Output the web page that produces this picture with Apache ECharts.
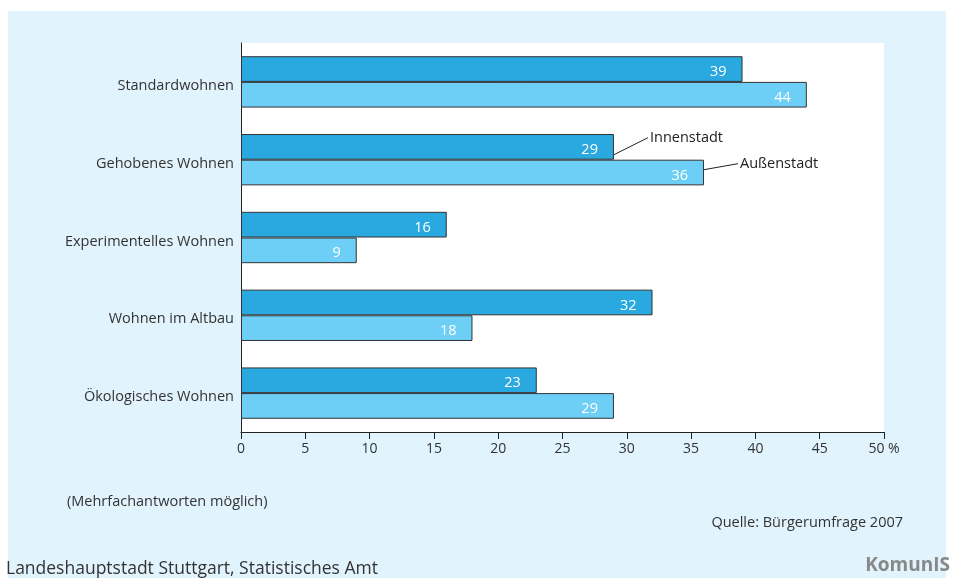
<!DOCTYPE html>
<html><head><meta charset="utf-8">
<script src="https://cdn.jsdelivr.net/npm/echarts@6/dist/echarts.min.js"></script>
<style>html,body{margin:0;padding:0;background:#fff;}#c{width:954px;height:578px;}</style>
</head><body><div id="c"></div>
<script>
const categories = ['Standardwohnen','Gehobenes Wohnen','Experimentelles Wohnen','Wohnen im Altbau','Ökologisches Wohnen'];
const innenstadt = [39, 29, 16, 32, 23];
const aussenstadt = [44, 36, 9, 18, 29];
const seriesNames = ['Innenstadt', 'Außenstadt'];
const xTicks = [0,5,10,15,20,25,30,35,40,45,50];

const FONT = 'Open Sans';
const chart = echarts.init(document.getElementById('c'));
const lbl = {show:true, position:'insideRight', color:'#fff', fontSize:14.5, fontFamily:FONT, offset:[-11,3]};
chart.setOption({
  animation:false,
  backgroundColor:'#fff',
  grid:{left:241, top:43, width:643, height:389, show:true, backgroundColor:'#fff', borderWidth:0},
  xAxis:{type:'value', min:0, max:50, interval:5,
    axisLine:{show:true, lineStyle:{color:'#222', width:1}},
    axisTick:{show:true, length:7, inside:false, lineStyle:{color:'#222'}},
    splitLine:{show:false},
    axisLabel:{color:'#333', fontSize:14, fontFamily:FONT, margin:10,
      formatter:v=> v===50 ? '50 %' : String(v)}
  },
  yAxis:{type:'category', data:categories, inverse:true,
    axisLine:{show:true, lineStyle:{color:'#222'}},
    axisTick:{show:false},
    axisLabel:{color:'#333', fontSize:14.5, fontFamily:FONT, margin:7, verticalAlign:'top', lineHeight:8}
  },
  series:[
    {name:seriesNames[0], type:'bar', data:innenstadt, barGap:'0%', barCategoryGap:'34%',
      itemStyle:{color:'#29a9e0', borderColor:'#333', borderWidth:1}, label:lbl},
    {name:seriesNames[1], type:'bar', data:aussenstadt,
      itemStyle:{color:'#6dcff6', borderColor:'#333', borderWidth:1}, label:lbl}
  ]
});

// annotations for the second category
const p1 = chart.convertToPixel({gridIndex:0}, [innenstadt[1], categories[1]]);
const p2 = chart.convertToPixel({gridIndex:0}, [aussenstadt[1], categories[1]]);
const y1 = p1[1] - 5, y2 = p2[1] + 10;
chart.setOption({graphic:[
  {type:'rect', z:-10, shape:{x:8,y:11,width:938,height:567}, style:{fill:'#e1f3fc'}},
  {type:'line', shape:{x1:p1[0], y1:y1, x2:p1[0]+34, y2:y1-17}, style:{stroke:'#222', lineWidth:1}},
  {type:'text', x:p1[0]+36, y:y1-17, style:{text:seriesNames[0], fill:'#222', font:'14.5px "Open Sans"', textVerticalAlign:'middle'}},
  {type:'line', shape:{x1:p2[0], y1:y2, x2:p2[0]+34, y2:y2-6}, style:{stroke:'#222', lineWidth:1}},
  {type:'text', x:p2[0]+36, y:y2-6, style:{text:seriesNames[1], fill:'#222', font:'14.5px "Open Sans"', textVerticalAlign:'middle'}},
  {type:'text', x:67, y:502, style:{text:'(Mehrfachantworten möglich)', fill:'#333', font:'14.5px "Open Sans"', textVerticalAlign:'middle'}},
  {type:'text', x:903, y:523, style:{text:'Quelle: Bürgerumfrage 2007', fill:'#333', font:'14.5px "Open Sans"', textAlign:'right', textVerticalAlign:'middle'}},
  {type:'text', x:6, y:569, style:{text:'Landeshauptstadt Stuttgart, Statistisches Amt', fill:'#333', font:'17.5px "Open Sans"', textVerticalAlign:'middle'}},
  {type:'text', x:950, y:566, style:{text:'KomunIS', fill:'#888', font:'bold 19px "Open Sans"', textAlign:'right', textVerticalAlign:'middle'}}
]});
</script></body></html>
